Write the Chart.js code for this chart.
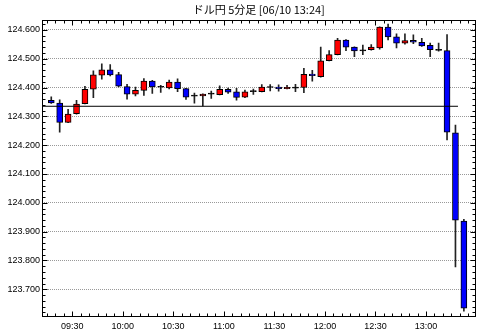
<!DOCTYPE html>
<html>
<head>
<meta charset="utf-8">
<script src="https://cdn.jsdelivr.net/npm/chart.js@4"></script>
<style>
  html, body { margin: 0; padding: 0; background: #fff; }
  #wrap { width: 480px; height: 335px; }
</style>
</head>
<body>
<div id="wrap"><canvas id="chart"></canvas></div>
<script>
// ── data (USD/JPY 5-min candles) ──
const times = [
  '09:15','09:20','09:25','09:30','09:35','09:40','09:45','09:50','09:55','10:00',
  '10:05','10:10','10:15','10:20','10:25','10:30','10:35','10:40','10:45','10:50',
  '10:55','11:00','11:05','11:10','11:15','11:20','11:25','11:30','11:35','11:40',
  '11:45','11:50','11:55','12:00','12:05','12:10','12:15','12:20','12:25','12:30',
  '12:35','12:40','12:45','12:50','12:55','13:00','13:05','13:10','13:15','13:20'
];
const opens = [
  124.356,124.346,124.279,124.309,124.344,124.394,124.443,124.461,124.445,124.403,
  124.377,124.390,124.422,124.401,124.399,124.419,124.396,124.370,124.371,124.377,
  124.375,124.394,124.385,124.367,124.386,124.386,124.400,124.402,124.396,124.398,
  124.400,124.447,124.438,124.493,124.514,124.565,124.540,124.527,124.531,124.537,
  124.610,124.576,124.554,124.564,124.557,124.546,124.529,124.528,124.243,123.937
];
const highs = [
  124.368,124.357,124.324,124.356,124.404,124.458,124.482,124.480,124.453,124.411,
  124.402,124.431,124.425,124.408,124.426,124.430,124.397,124.381,124.378,124.388,
  124.406,124.398,124.397,124.391,124.395,124.410,124.410,124.409,124.408,124.411,
  124.467,124.460,124.540,124.528,124.571,124.566,124.541,124.547,124.549,124.611,
  124.620,124.586,124.586,124.583,124.571,124.554,124.554,124.584,124.270,123.943
];
const lows = [
  124.345,124.245,124.278,124.308,124.343,124.365,124.429,124.440,124.402,124.360,
  124.371,124.373,124.380,124.383,124.395,124.386,124.359,124.346,124.336,124.362,
  124.374,124.380,124.356,124.365,124.376,124.385,124.388,124.387,124.395,124.386,
  124.382,124.422,124.436,124.492,124.513,124.528,124.507,124.514,124.530,124.533,
  124.565,124.537,124.550,124.552,124.543,124.507,124.526,124.218,123.778,123.624
];
const closes = [
  124.347,124.279,124.308,124.343,124.394,124.444,124.461,124.444,124.405,124.377,
  124.390,124.422,124.402,124.401,124.419,124.396,124.367,124.370,124.377,124.377,
  124.394,124.384,124.366,124.385,124.386,124.402,124.400,124.396,124.401,124.398,
  124.446,124.441,124.493,124.514,124.565,124.540,124.527,124.527,124.540,124.610,
  124.576,124.554,124.563,124.557,124.544,124.531,124.529,124.245,123.940,123.635
];

const refLevel = 124.335;
const refLineTimes = ['09:12', '13:19'];

const xTickLabels = ['09:30','10:00','10:30','11:00','11:30','12:00','12:30','13:00'];
const yTicks = [123.7, 123.8, 123.9, 124.0, 124.1, 124.2, 124.3, 124.4, 124.5, 124.6];

const titleText = 'ドル円 5分足 [06/10 13:24]';

// ── helpers ──
function toMin(t) {
  const [h, m] = t.split(':').map(Number);
  return h * 60 + m;
}
// candle drawn in the middle of its 5-minute slot
const centerOf = t => toMin(t) + 2.5;

const bodyColors = opens.map((o, i) =>
  closes[i] > o ? '#ff0000' : closes[i] < o ? '#0000ff' : '#000000');

// frame + inward tick marks on all four sides
const frameTicks = {
  id: 'frameTicks',
  afterDraw(chart) {
    const { ctx, chartArea: a, scales: { x, y } } = chart;
    const L = Math.round(a.left) + 0.5, R = Math.round(a.right) - 0.5;
    const T = Math.round(a.top) + 0.5, B = Math.round(a.bottom) - 0.5;
    ctx.save();
    ctx.strokeStyle = '#000';
    ctx.lineWidth = 1;
    ctx.beginPath();
    for (let m = Math.ceil(x.min / 5) * 5; m <= x.max; m += 5) {
      const px = Math.round(x.getPixelForValue(m)) + 0.5;
      const len = m % 30 === 0 ? 5 : 3;
      ctx.moveTo(px, B); ctx.lineTo(px, B - len);
      ctx.moveTo(px, T); ctx.lineTo(px, T + len);
    }
    for (let k = Math.ceil(y.min * 50); k <= Math.floor(y.max * 50); k++) {
      const py = Math.round(y.getPixelForValue(k / 50)) + 0.5;
      const len = k % 5 === 0 ? 5 : 3;
      ctx.moveTo(L, py); ctx.lineTo(L + len, py);
      ctx.moveTo(R, py); ctx.lineTo(R - len, py);
    }
    ctx.stroke();
    ctx.strokeRect(L, T, R - L, B - T);
    ctx.restore();
  }
};

Chart.defaults.font.family = '"Liberation Sans", Arial, sans-serif';
Chart.defaults.font.size = 9;
Chart.defaults.color = '#000';

new Chart(document.getElementById('chart'), {
  type: 'bar',
  data: {
    datasets: [
      {
        type: 'line',
        order: 0,
        data: refLineTimes.map(t => ({ x: toMin(t), y: refLevel })),
        borderColor: '#000',
        borderWidth: 1,
        pointRadius: 0,
        fill: false
      },
      {
        order: 1,
        data: times.map((t, i) => ({ x: centerOf(t), y: [opens[i], closes[i]] })),
        backgroundColor: bodyColors,
        borderColor: '#000',
        borderWidth: 1,
        borderSkipped: false,
        barThickness: 6,
        minBarLength: 1,
        grouped: false
      },
      {
        order: 2,
        data: times.map((t, i) => ({ x: centerOf(t), y: [lows[i], highs[i]] })),
        backgroundColor: '#222',
        borderWidth: 0,
        barThickness: 1,
        grouped: false
      }
    ]
  },
  options: {
    responsive: true,
    maintainAspectRatio: false,
    animation: false,
    layout: { padding: { left: 0, right: 4.5, top: 0, bottom: 0 } },
    plugins: {
      legend: { display: false },
      tooltip: { enabled: false },
      title: {
        display: true,
        text: titleText,
        fullSize: false,
        color: '#000',
        font: { family: '"Noto Sans CJK JP", sans-serif', size: 11, weight: 'normal', lineHeight: 1.2 },
        padding: { top: 3, bottom: 3.3 }
      }
    },
    scales: {
      x: {
        type: 'linear',
        min: 552,
        max: 809.4,
        offset: false,
        grid: { display: false, drawTicks: false },
        border: { display: false },
        afterBuildTicks: s => { s.ticks = xTickLabels.map(t => ({ value: toMin(t) })); },
        afterFit: s => { s.height = 18; },
        ticks: { padding: 4, maxRotation: 0, autoSkip: false, callback: (v, i) => xTickLabels[i] }
      },
      y: {
        min: 123.604,
        max: 124.636,
        grid: { color: '#999', drawTicks: false },
        border: { display: false, dash: [1, 1] },
        afterBuildTicks: s => { s.ticks = yTicks.map(v => ({ value: v })); },
        afterFit: s => { s.width = 42; },
        ticks: { padding: 2, callback: v => v.toFixed(3) }
      }
    }
  },
  plugins: [frameTicks]
});
</script>
</body>
</html>
